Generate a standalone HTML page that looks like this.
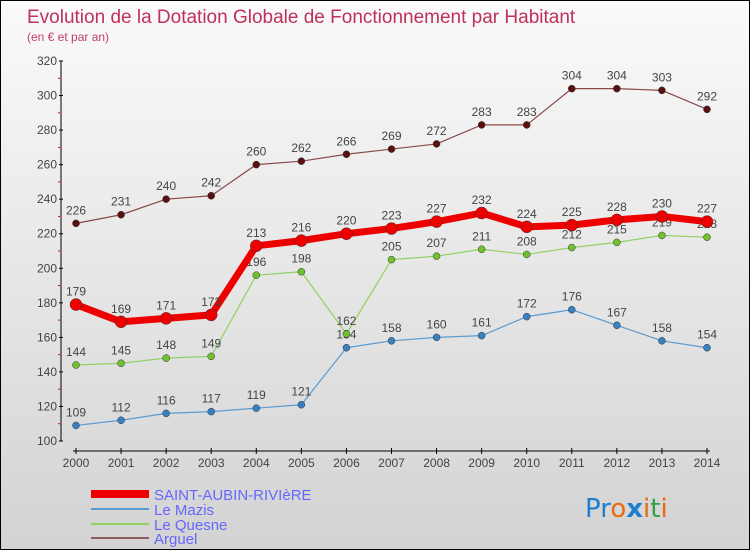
<!DOCTYPE html>
<html><head><meta charset="utf-8"><style>
body{margin:0}
#c{width:750px;height:550px;position:relative;box-sizing:border-box;border:1px solid #000;background:linear-gradient(#fafafa,#d3d3d3);font-family:"DejaVu Sans","Liberation Sans",sans-serif;overflow:hidden}
</style></head><body>
<div id="c">
<svg id="s" width="750" height="550" style="position:absolute;left:0;top:0">
<text x="26" y="22" font-size="19" fill="#c0305a" font-family="Liberation Sans">Evolution de la Dotation Globale de Fonctionnement par Habitant</text>
<text x="26" y="40" font-size="12" fill="#c0406a" font-family="Liberation Sans">(en € et par an)</text>
<g id="axes"></g><g id="series"></g>
<g font-family="Liberation Sans">
<rect x="90" y="489" width="58" height="8" fill="#ee0000"/>
<text x="153" y="499" font-size="15" fill="#6666ff">SAINT-AUBIN-RIVIèRE</text>
<rect x="90" y="507" width="58" height="2" fill="#5a9bd0"/>
<text x="153" y="514" font-size="15" fill="#6666ff">Le Mazis</text>
<rect x="90" y="522" width="58" height="2" fill="#90d060"/>
<text x="153" y="529" font-size="15" fill="#6666ff">Le Quesne</text>
<rect x="90" y="536" width="58" height="2" fill="#8b5a5a"/>
<text x="153" y="543" font-size="15" fill="#6666ff">Arguel</text>
</g>
<text x="584" y="516" font-size="26" font-family="DejaVu Sans"><tspan fill="#1e7fd0">Pr</tspan><tspan fill="#e86a10">o</tspan><tspan fill="#1e7fd0" font-weight="bold">x</tspan><tspan fill="#e86a10">i</tspan><tspan fill="#30a040">t</tspan><tspan fill="#e86a10">i</tspan></text>
</svg></div>
<script>
const years=[2000,2001,2002,2003,2004,2005,2006,2007,2008,2009,2010,2011,2012,2013,2014];
const yTicks=[100,120,140,160,180,200,220,240,260,280,300,320];
const saint=[179,169,171,173,213,216,220,223,227,232,224,225,228,230,227];
const mazis=[109,112,116,117,119,121,154,158,160,161,172,176,167,158,154];
const quesne=[144,145,148,149,196,198,162,205,207,211,208,212,215,219,218];
const arguel=[226,231,240,242,260,262,266,269,272,283,283,304,304,303,292];
const NS="http://www.w3.org/2000/svg";
const X=i=>75+i*(706-75)/14;
const Y=v=>440-(v-100)*380/220;
function mk(t,a,p){const e=document.createElementNS(NS,t);for(const k in a)e.setAttribute(k,a[k]);p.appendChild(e);return e;}
const ax=document.getElementById('axes');
const yl=mk('line',{x1:60,y1:Y(320),x2:60,y2:Y(100),stroke:'#000'},ax);


yTicks.forEach(v=>{mk('line',{x1:58,x2:62,y1:Y(v),y2:Y(v),stroke:'#000'},ax);
 if(v<320)mk('line',{x1:57,x2:59,y1:Y(v+10),y2:Y(v+10),stroke:'#e00'},ax);
 const t=mk('text',{x:56,y:Y(v)+4,'font-size':12,fill:'#444','text-anchor':'end','font-family':'Liberation Sans'},ax);t.textContent=v;
 
 });
const xl=mk('line',{x1:72,y1:450,x2:709,y2:450,stroke:'#000'},ax);


years.forEach((y,i)=>{mk('line',{x1:X(i),x2:X(i),y1:447,y2:453,stroke:'#000'},ax);
 const t=mk('text',{x:X(i),y:466,'font-size':12,fill:'#444','text-anchor':'middle','font-family':'Liberation Sans'},ax);t.textContent=y;
 
 });
const sg=document.getElementById('series');
function draw(d,name,col,w,r,dot){
 const g=mk('g',{},sg);
 
 
 mk('polyline',{points:d.map((v,i)=>X(i)+','+Y(v)).join(' '),fill:'none',stroke:col,'stroke-width':w,'stroke-linejoin':'round'},g);
 d.forEach((v,i)=>{const c=mk('circle',{cx:X(i),cy:Y(v),r:r,fill:dot,stroke:'#333','stroke-width':0.5},g);
  
  
  const t=mk('text',{x:X(i),y:Y(v)-9,'font-size':12,fill:'#444','text-anchor':'middle','font-family':'Liberation Sans'},g);t.textContent=v;
  
  });
}
draw(arguel,'arguel','#8b4a4a',1.2,3.5,'#5a1010');
draw(mazis,'le-mazis','#5a9bd0',1.2,3.5,'#3a80c0');
draw(quesne,'le-quesne','#90d060',1.2,3.5,'#70c030');
draw(saint,'saint-aubin','#ee0000',7,6,'#ee0000');
</script>
</body></html>
